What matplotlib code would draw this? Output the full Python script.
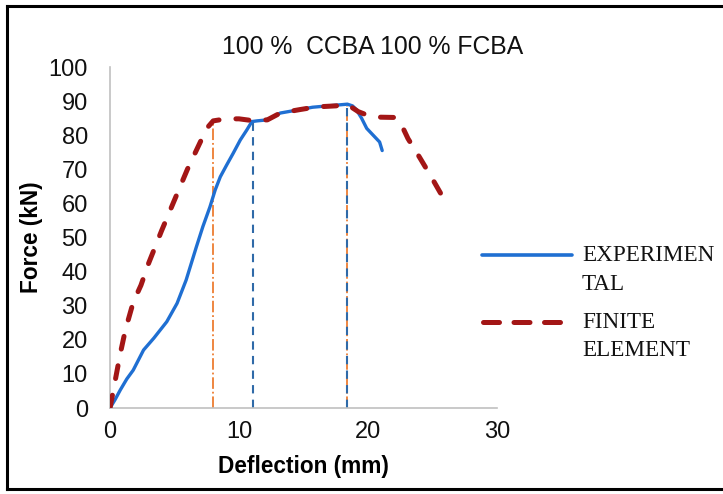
import numpy as np
import matplotlib
matplotlib.use("Agg")
import matplotlib.pyplot as plt
from matplotlib.lines import Line2D

exp_x = [0, 0.4, 0.8, 1.3, 1.8, 2.6, 3.4, 4.4, 5.2, 5.9, 6.7, 7.2, 7.75, 8.15,
         8.55, 9.05, 9.55, 10.1, 10.6, 11.0, 11.4, 12.2, 13.2, 14.7, 15.7, 16.6,
         17.5, 18.4, 18.8, 19.1, 19.5, 19.9, 20.4, 20.9, 21.1]
exp_y = [0, 2.5, 5.3, 8.5, 11.1, 17.0, 20.5, 25.3, 30.7, 37.5, 47.3, 53.2, 59.0, 63.9,
         67.8, 71.3, 74.7, 78.6, 81.5, 84.0, 84.2, 84.5, 86.5, 87.5, 88.2, 88.5,
         88.8, 89.1, 88.6, 87.5, 85.0, 82.0, 80.0, 78.0, 75.5]

# finite element curve
fe_x = [0, 0.4, 0.8, 1.2, 1.8, 2.4, 3.0, 4.0, 5.0, 6.0, 7.0, 7.5, 8.0, 9.0, 10.0,
        11.0, 12.2, 13.2, 14.7, 16.0, 17.5, 18.4, 19.25, 20.0, 20.7, 22.1, 22.6,
        23.1, 24.0, 24.9, 25.7]
fe_y = [0, 8, 16, 23, 31, 36, 42.5, 52, 61, 70, 78, 82, 84.2, 84.8, 84.8,
        84.3, 84.5, 86.5, 87.5, 88.3, 88.6, 89.0, 86.9, 85.8, 85.3, 85.2, 83.0,
        79.0, 73.5, 67.8, 62.5]

# drop lines: (x, top) pairs
orange_drops = [(8.0, 84.0), (18.4, 88.7)]
blue_drops = [(11.1, 83.5), (18.4, 88.7)]

x_ticks = [0, 10, 20, 30]
y_ticks = list(range(0, 101, 10))

plt.rcParams['font.family'] = ['Liberation Sans', 'DejaVu Sans']

W, H = 723, 494
fig = plt.figure(figsize=(W / 100, H / 100), dpi=100)
ax = fig.add_axes([110 / W, 1 - 408 / H, 387 / W, 341 / H])

for x, top in orange_drops:
    ax.plot([x, x], [0, top], color='#ed7d31', lw=1.3, ls='-.', zorder=2)
for x, top in blue_drops:
    ax.plot([x, x], [0, top], color='#2f6aa8', lw=1.5, ls=(0, (4, 3)), zorder=2)

ax.plot(exp_x, exp_y, color='#1f6fd2', lw=2.4, zorder=3, solid_capstyle='round')
fe_line, = ax.plot(fe_x, fe_y, color='#a31616', lw=3.6, zorder=4,
                   dash_capstyle='round')
fe_line.set_dashes((2.6, 3.4))

ax.set_xlim(0, 30)
ax.set_ylim(0, 100)
ax.set_xticks(x_ticks)
ax.set_yticks(y_ticks)
ax.tick_params(length=0, labelsize=17, colors='#111111')
ax.tick_params(axis='y', pad=16)
ax.tick_params(axis='x', pad=9)
for s in ['top', 'right']:
    ax.spines[s].set_visible(False)
for s in ['left', 'bottom']:
    ax.spines[s].set_color('#c0c0c0')
    ax.spines[s].set_linewidth(1.2)

ax.set_xlabel('Deflection (mm)', fontsize=16.3, fontweight='bold', labelpad=9)
ax.set_ylabel('Force (kN)', fontsize=16.3, fontweight='bold', labelpad=4)
fig.text(373 / W, 1 - 47 / H, '100 %  CCBA 100 % FCBA', fontsize=17.8,
         ha='center', va='center', color='#111111')

# legend drawn at the right, handles aligned with the first text line
fig.add_artist(Line2D([482 / W, 572 / W], [1 - 255 / H] * 2, color='#1f6fd2',
                      lw=2.6, solid_capstyle='round'))
leg_red = Line2D([483 / W, 572 / W], [1 - 322 / H] * 2, color='#a31616',
                 lw=3.6, dash_capstyle='round')
leg_red.set_dashes((3.2, 2.9))
fig.add_artist(leg_red)
serif = ['Liberation Serif', 'DejaVu Serif']
for txt, yy in [('EXPERIMEN', 261), ('TAL', 290), ('FINITE', 328), ('ELEMENT', 356)]:
    fig.text(582 / W, 1 - yy / H, txt, fontsize=16.7, family=serif,
             ha='left', va='baseline', color='#111111')

# outer frame (top, left, bottom)
for xs, ys in [([7 / W, 1], [1 - 6 / H] * 2),
               ([7 / W, 7 / W], [1 - 6 / H, 1 - 489 / H]),
               ([7 / W, 1], [1 - 489 / H] * 2)]:
    fig.add_artist(Line2D(xs, ys, color='black', lw=2.2))

fig.savefig('out.png', dpi=100)
